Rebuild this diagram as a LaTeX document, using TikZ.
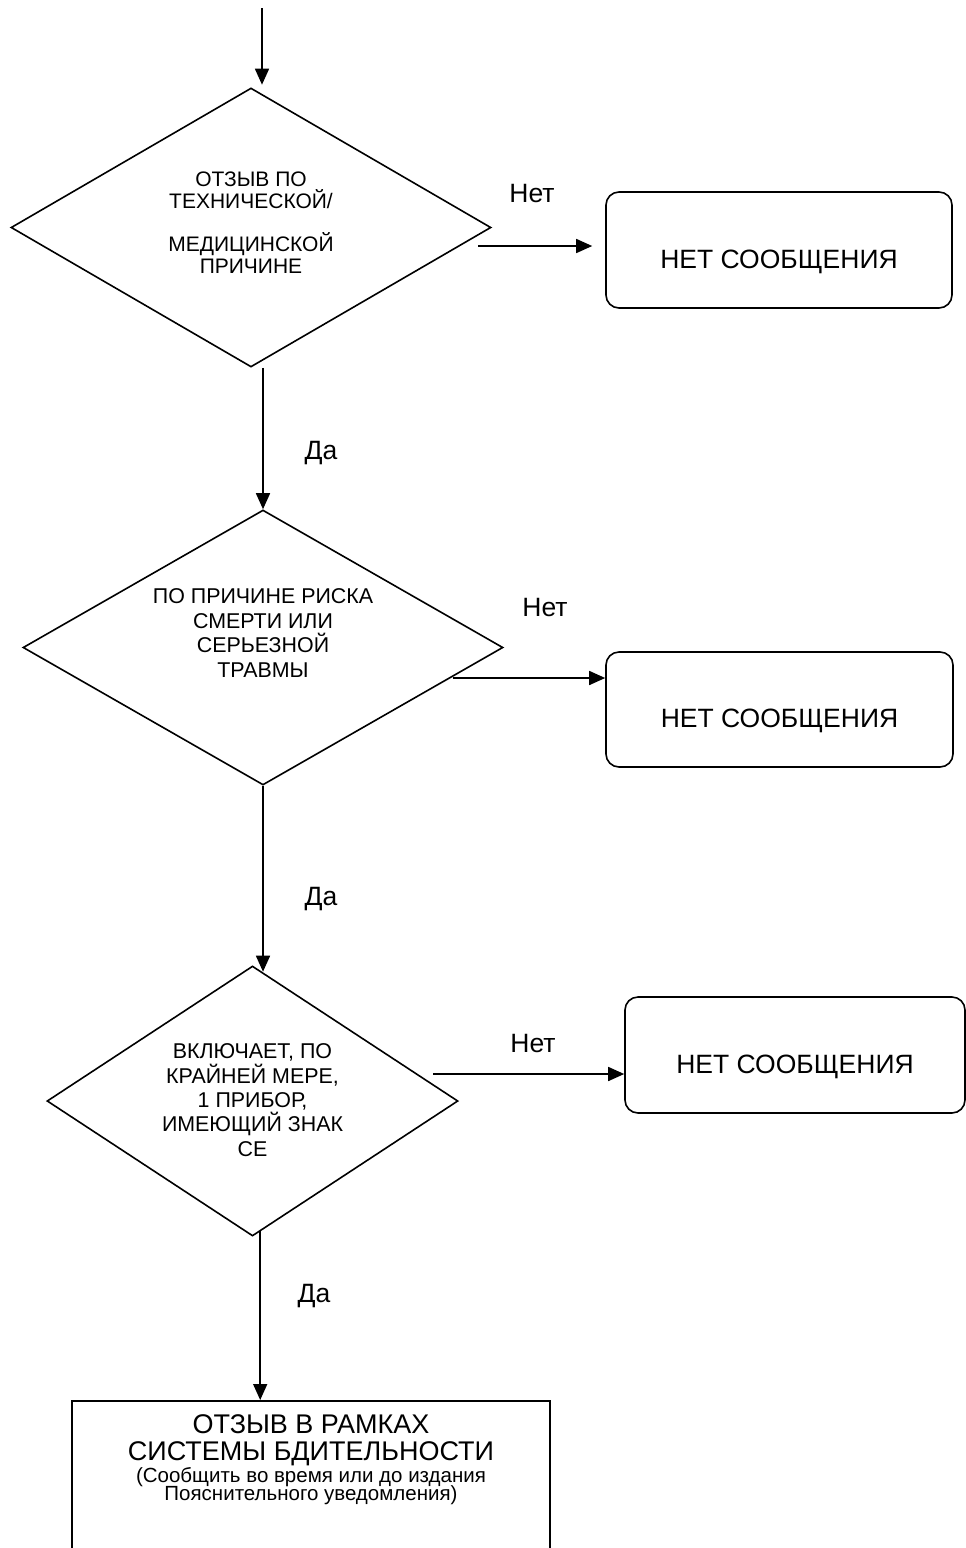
\documentclass[tikz,border=0pt]{standalone}
\usepackage{fontspec}
\setmainfont{Liberation Sans}
\usetikzlibrary{shapes.geometric,arrows.meta}
\begin{document}
\begin{tikzpicture}[x=1pt,y=-1pt,
  line width=1.6pt,
  arr/.style={-{Triangle[length=16pt,width=14pt]}},
  dia/.style={diamond,draw,inner sep=0pt,align=center,text depth=0pt},
  rbox/.style={draw,rounded corners=13pt,inner sep=0pt,font=\fontsize{26.5}{30}\selectfont,text height=36pt,text depth=0pt},
  lbl/.style={inner sep=0pt,anchor=base,font=\fontsize{26.5}{30}\selectfont},
]
\clip (0,0) rectangle (966,1548);
\fill[white] (0,0) rectangle (966,1548);

% decisions
\node[dia, font=\fontsize{21}{21.5}\selectfont, minimum width=480pt, minimum height=279pt, aspect=1.72, text height=91pt] (d1) at (251,227.5)
  {ОТЗЫВ ПО\\ТЕХНИЧЕСКОЙ/\\[22pt]МЕДИЦИНСКОЙ\\ПРИЧИНЕ};
\node[dia, font=\fontsize{21.4}{24.5}\selectfont, minimum width=480pt, minimum height=275pt, aspect=1.745, text height=59pt] (d2) at (263,647.5)
  {ПО ПРИЧИНЕ РИСКА\\СМЕРТИ ИЛИ\\СЕРЬЕЗНОЙ\\ТРАВМЫ};
\node[dia, font=\fontsize{21.4}{24.3}\selectfont, minimum width=411pt, minimum height=270pt, aspect=1.52, text height=110pt] (d3) at (252.5,1101)
  {ВКЛЮЧАЕТ, ПО\\КРАЙНЕЙ МЕРЕ,\\1 ПРИБОР,\\ИМЕЮЩИЙ ЗНАК\\СЕ};

% no-message boxes
\node[rbox, minimum width=346pt, minimum height=116pt] (b1) at (779,250) {НЕТ СООБЩЕНИЯ};
\node[rbox, minimum width=347pt, minimum height=115pt] (b2) at (779.5,709.5) {НЕТ СООБЩЕНИЯ};
\node[rbox, minimum width=340pt, minimum height=116pt] (b3) at (795,1055) {НЕТ СООБЩЕНИЯ};

% final box
\node[draw, inner sep=0pt, minimum width=478pt, minimum height=300pt, anchor=north, align=center,
      font=\fontsize{27}{27}\selectfont, text height=0pt, text depth=100pt] (r) at (311,1400)
  {ОТЗЫВ В РАМКАХ\\СИСТЕМЫ БДИТЕЛЬНОСТИ\\[-5pt]{\fontsize{20.5}{20}\selectfont (Сообщить во время или до издания}\\[-9pt]{\fontsize{20.5}{20}\selectfont Пояснительного уведомления)}};

% connectors
\coordinate (s0) at (262,8);
\draw[arr, shorten >=2.5pt] (s0) -- (s0 |- d1.north);
\draw[arr] (d1.south -| d2.north) -- (d2.north);
\draw[arr, shorten >=-6.5pt] (d2.south) -- (d2.south |- d3.north);
\coordinate (rtop) at ([xshift=189pt]r.north west);
\draw[arr, shorten <=-6pt] (d3.south -| rtop) -- (rtop);

\coordinate (h1) at (478,246);
\coordinate (h2) at (453,678);
\coordinate (h3) at (433,1074);
\draw[arr, shorten >=13pt] (h1) -- (h1 -| b1.west);
\draw[arr] (h2) -- (h2 -| b2.west);
\draw[arr] (h3) -- (h3 -| b3.west);

% labels
\node[lbl] (n1) at (532,202) {Нет};
\node[lbl] (n2) at (545,616) {Нет};
\node[lbl] (n3) at (533,1052) {Нет};
\node[lbl] (y1) at (321,459) {Да};
\node[lbl] (y2) at (321,905) {Да};
\node[lbl] (y3) at (314,1302) {Да};
\end{tikzpicture}
\end{document}
